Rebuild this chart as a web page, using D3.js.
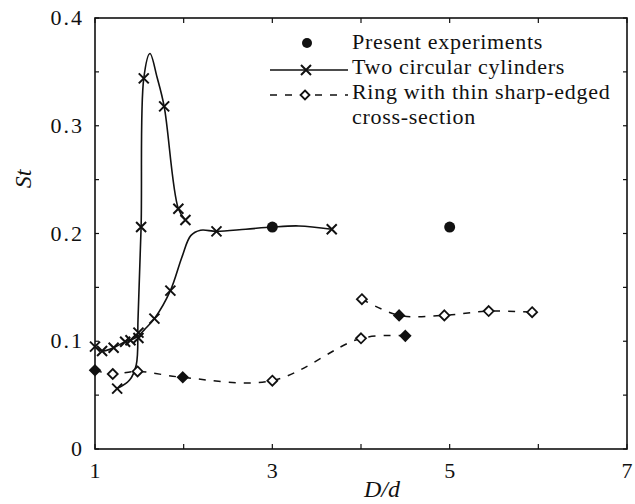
<!DOCTYPE html>
<html>
<head>
<meta charset="utf-8">
<script src="https://cdn.jsdelivr.net/npm/d3@7"></script>
<style>
    body { margin: 0; background: #fff; }
    text { font-family: "Liberation Serif", "DejaVu Serif", serif; fill: #111; }
</style>
</head>
<body>
<script>
//tick labels
var xTickLabels = [1, 3, 5, 7];
var yTickLabels = [0, 0.1, 0.2, 0.3, 0.4];

//present experiments (filled dots)
var presentX = [3, 5];
var presentY = [0.206, 0.206];

//two circular cylinders, lower branch: curve and markers
var cylLowLineX = [1.0, 1.08, 1.21, 1.34, 1.40, 1.49, 1.56, 1.67, 1.85, 1.98, 2.08, 2.19, 2.37, 2.7, 3.0, 3.3, 3.67];
var cylLowLineY = [0.095, 0.091, 0.094, 0.0996, 0.101, 0.105, 0.111, 0.121, 0.147, 0.178, 0.198, 0.203, 0.202, 0.204, 0.206, 0.207, 0.204];
var cylLowMarkX = [1.0, 1.08, 1.21, 1.34, 1.40, 1.49, 1.49, 1.67, 1.85, 2.37, 3.67];
var cylLowMarkY = [0.095, 0.091, 0.094, 0.0996, 0.101, 0.103, 0.108, 0.121, 0.147, 0.202, 0.204];

//two circular cylinders, upper branch (peak)
var cylUpLineX = [1.25, 1.39, 1.465, 1.485, 1.52, 1.55, 1.62, 1.70, 1.78, 1.94, 2.02];
var cylUpLineY = [0.056, 0.064, 0.078, 0.12, 0.206, 0.344, 0.367, 0.345, 0.318, 0.223, 0.2125];
var cylUpMarkX = [1.25, 1.52, 1.55, 1.78, 1.94, 2.02];
var cylUpMarkY = [0.056, 0.206, 0.344, 0.318, 0.223, 0.2125];

//ring with thin sharp-edged cross-section, two branches
var ringLowX = [1.0, 1.2, 1.48, 1.99, 3.0, 4.0, 4.5];
var ringLowY = [0.073, 0.0696, 0.072, 0.0665, 0.0634, 0.1027, 0.105];
var ringLowFilled = [1, 0, 0, 1, 0, 0, 1];
var ringUpX = [4.01, 4.43, 4.94, 5.44, 5.93];
var ringUpY = [0.139, 0.124, 0.124, 0.128, 0.127];
var ringUpFilled = [0, 1, 0, 0, 0];

//legend entries
var legendLines = ["Present experiments", "Two circular cylinders", "Ring with thin sharp-edged", "cross-section"];

window.onload = drawChart();

function drawChart(){
    var width = 635,
        height = 504;
    var margin = {left: 95, top: 18, right: 8, bottom: 55};
    var plotW = width - margin.left - margin.right,
        plotH = height - margin.top - margin.bottom;

    var svg = d3.select("body")
        .append("svg")
        .attr("width", width)
        .attr("height", height);

    var x = d3.scaleLinear().domain([1, 7]).range([margin.left, margin.left + plotW]);
    var y = d3.scaleLinear().domain([0, 0.4]).range([margin.top + plotH, margin.top]);

    //zip helper
    function pts(xs, ys){
        return xs.map(function(v, i){ return [v, ys[i]]; });
    }

    //frame
    svg.append("rect")
        .attr("x", x(1)).attr("y", y(0.4))
        .attr("width", x(7) - x(1)).attr("height", y(0) - y(0.4))
        .attr("fill", "none").attr("stroke", "#111").attr("stroke-width", 1.6);

    //inward ticks on all four sides
    var xTicks = d3.range(1, 7.01, 1);
    var yTicks = d3.range(0, 0.401, 0.05);
    var tickG = svg.append("g").attr("stroke", "#111").attr("stroke-width", 1.2);
    tickG.selectAll(".xb").data(xTicks).enter().append("line")
        .attr("x1", function(d){ return x(d); }).attr("x2", function(d){ return x(d); })
        .attr("y1", y(0)).attr("y2", y(0) - 5);
    tickG.selectAll(".xt").data(xTicks).enter().append("line")
        .attr("x1", function(d){ return x(d); }).attr("x2", function(d){ return x(d); })
        .attr("y1", y(0.4)).attr("y2", y(0.4) + 5);
    tickG.selectAll(".yl").data(yTicks).enter().append("line")
        .attr("x1", x(1)).attr("x2", x(1) + 4)
        .attr("y1", function(d){ return y(d); }).attr("y2", function(d){ return y(d); });
    tickG.selectAll(".yr").data(yTicks).enter().append("line")
        .attr("x1", x(7)).attr("x2", x(7) - 4)
        .attr("y1", function(d){ return y(d); }).attr("y2", function(d){ return y(d); });

    //tick labels
    svg.selectAll(".xlab").data(xTickLabels).enter().append("text")
        .attr("x", function(d){ return x(d); })
        .attr("y", y(0) + 29)
        .attr("text-anchor", "middle")
        .style("font-size", "22px")
        .text(function(d){ return d; });
    svg.selectAll(".ylab").data(yTickLabels).enter().append("text")
        .attr("x", x(1) - 11)
        .attr("y", function(d){ return y(d) + 7; })
        .attr("text-anchor", "end")
        .style("font-size", "22px")
        .style("letter-spacing", "2px")
        .text(function(d){ return d === 0 ? "0" : d.toFixed(1); });

    //axis titles
    svg.append("text")
        .attr("x", 382).attr("y", 497)
        .attr("text-anchor", "middle")
        .style("font-size", "24px").style("font-style", "italic")
        .text("D/d");
    svg.append("text")
        .attr("transform", "translate(31,179) rotate(-90)")
        .attr("text-anchor", "middle")
        .style("font-size", "24px").style("font-style", "italic")
        .text("St");

    var line = d3.line()
        .x(function(d){ return x(d[0]); })
        .y(function(d){ return y(d[1]); })
        .curve(d3.curveCatmullRom.alpha(0.5));

    //solid curves
    [pts(cylLowLineX, cylLowLineY), pts(cylUpLineX, cylUpLineY)].forEach(function(p){
        svg.append("path").datum(p)
            .attr("d", line)
            .attr("fill", "none").attr("stroke", "#111").attr("stroke-width", 1.6);
    });

    //dashed curves
    [pts(ringLowX, ringLowY), pts(ringUpX, ringUpY)].forEach(function(p){
        svg.append("path").datum(p)
            .attr("d", line)
            .attr("fill", "none").attr("stroke", "#111").attr("stroke-width", 1.5)
            .attr("stroke-dasharray", "7,8");
    });

    //marker helpers
    function cross(g, cx, cy, r){
        g.append("path")
            .attr("d", "M" + (cx - r) + "," + (cy - r) + "L" + (cx + r) + "," + (cy + r) +
                       "M" + (cx - r) + "," + (cy + r) + "L" + (cx + r) + "," + (cy - r))
            .attr("stroke", "#111").attr("stroke-width", 2).attr("fill", "none");
    }
    function diamond(g, cx, cy, r, filled){
        g.append("path")
            .attr("d", "M" + cx + "," + (cy - r) + "L" + (cx + r) + "," + cy + "L" + cx + "," + (cy + r) + "L" + (cx - r) + "," + cy + "Z")
            .attr("stroke", "#111").attr("stroke-width", 1.8)
            .attr("fill", filled ? "#111" : "#fff");
    }

    var markG = svg.append("g");
    pts(cylLowMarkX, cylLowMarkY).concat(pts(cylUpMarkX, cylUpMarkY)).forEach(function(d){
        cross(markG, x(d[0]), y(d[1]), 5);
    });
    ringLowX.forEach(function(v, i){ diamond(markG, x(v), y(ringLowY[i]), 5, ringLowFilled[i]); });
    ringUpX.forEach(function(v, i){ diamond(markG, x(v), y(ringUpY[i]), 5, ringUpFilled[i]); });
    markG.selectAll(".present").data(pts(presentX, presentY)).enter().append("circle")
        .attr("cx", function(d){ return x(d[0]); })
        .attr("cy", function(d){ return y(d[1]); })
        .attr("r", 5.5).attr("fill", "#111");

    //legend
    var lg = svg.append("g");
    lg.append("circle").attr("cx", 307).attr("cy", 43).attr("r", 5).attr("fill", "#111");
    lg.append("line").attr("x1", 270).attr("x2", 348).attr("y1", 70).attr("y2", 70)
        .attr("stroke", "#111").attr("stroke-width", 1.4);
    cross(lg, 306, 70, 5);
    lg.append("line").attr("x1", 270).attr("x2", 348).attr("y1", 95).attr("y2", 95)
        .attr("stroke", "#111").attr("stroke-width", 1.4).attr("stroke-dasharray", "7,8");
    diamond(lg, 305, 95, 4.5, 0);
    lg.selectAll(".leg").data(legendLines).enter().append("text")
        .attr("x", 352)
        .attr("y", function(d, i){ return 49 + i * 25; })
        .style("font-size", "22px")
        .style("letter-spacing", "0.7px")
        .text(function(d){ return d; });
}
</script>
</body>
</html>
